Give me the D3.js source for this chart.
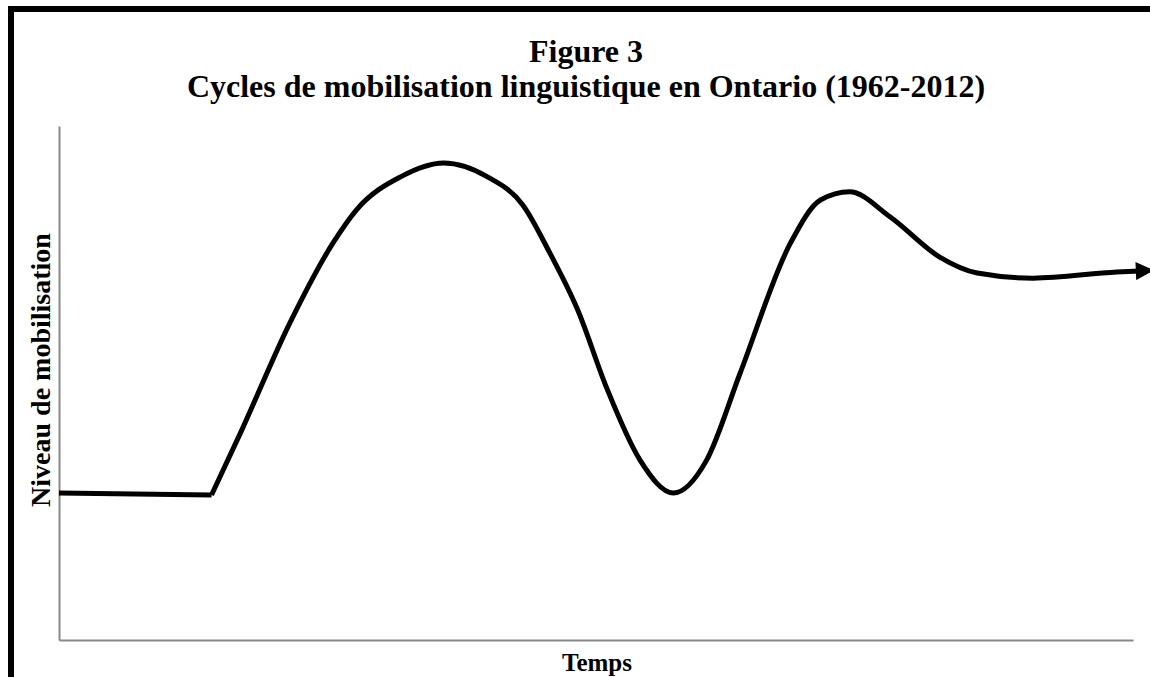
<!DOCTYPE html>
<html>
<head>
<meta charset="utf-8">
<script src="https://cdn.jsdelivr.net/npm/d3@7"></script>
<style>
	body { margin: 0; background: #fff; }
	svg { display: block; }
	text { font-family: "Liberation Serif", "Times New Roman", serif; font-weight: bold; fill: #000; }
</style>
</head>
<body>
<svg id="chart" width="1150" height="677"></svg>
<script>
// niveau de mobilisation (0-100) au fil du temps (0-100)
var flatTime = [0, 14.2];
var flatLevel = [28.6, 28.2];
var waveTime = [14.2, 16.9, 21.5, 25.5, 27.7, 31.8, 35.8, 39.9, 43.2, 45.7, 48.3, 51.0, 54.1, 57.2, 60.3, 63.4, 68.1, 70.9, 73.6, 77.4, 82.0, 85.5, 90.7, 98.5, 100.6];
var waveLevel = [28.2, 40.3, 61.7, 77.2, 83.7, 90.1, 92.8, 90.1, 84.6, 75.3, 64.2, 49.0, 35.0, 28.6, 35.0, 51.8, 77.2, 85.6, 87.2, 82.3, 74.5, 71.4, 70.4, 71.6, 71.8];

var titleLines = ['Figure 3', 'Cycles de mobilisation linguistique en Ontario (1962-2012)'];
var xLabel = 'Temps';
var yLabel = 'Niveau de mobilisation';

function drawChart() {
	var svg = d3.select('#chart'),
		width = +svg.attr('width'),
		height = +svg.attr('height');
	var axisColor = '#898989';
	var plot = {left: 59, right: 1133, top: 126, bottom: 640};

	var xScale = d3.scaleLinear().domain([0, 100]).range([plot.left, plot.right]);
	var yScale = d3.scaleLinear().domain([0, 100]).range([plot.bottom, plot.top]);

	// cadre noir (haut et gauche)
	svg.append('line').attr('x1', 8).attr('x2', width).attr('y1', 9).attr('y2', 9)
		.style('stroke', '#000').style('stroke-width', 6);
	svg.append('line').attr('x1', 11).attr('x2', 11).attr('y1', 6).attr('y2', height)
		.style('stroke', '#000').style('stroke-width', 6);

	svg.append('defs').append('marker')
		.attr('id', 'arrow')
		.attr('viewBox', '0 0 10 10')
		.attr('refX', 2).attr('refY', 5)
		.attr('markerWidth', 4.4).attr('markerHeight', 3.6)
		.attr('markerUnits', 'strokeWidth')
		.attr('orient', 'auto')
		.append('path').attr('d', 'M0,0 L10,5 L0,10 Z').style('fill', '#000');

	// axes sans graduations
	var xAxis = d3.axisBottom(xScale).tickValues([]).tickSizeOuter(0);
	var yAxis = d3.axisLeft(yScale).tickValues([]).tickSizeOuter(0);
	svg.append('g').attr('id', 'x-axis').attr('transform', 'translate(0,' + plot.bottom + ')').call(xAxis);
	svg.append('g').attr('id', 'y-axis').attr('transform', 'translate(' + plot.left + ',0)').call(yAxis);
	svg.selectAll('#x-axis path, #y-axis path').style('stroke', axisColor).style('stroke-width', 2);

	var flatData = flatTime.map(function (t, i) { return {t: t, v: flatLevel[i]}; });
	var waveData = waveTime.map(function (t, i) { return {t: t, v: waveLevel[i]}; });

	var flatLine = d3.line()
		.x(function (d) { return xScale(d.t); })
		.y(function (d) { return yScale(d.v); });
	var waveLine = d3.line()
		.x(function (d) { return xScale(d.t); })
		.y(function (d) { return yScale(d.v); })
		.curve(d3.curveMonotoneX);

	svg.append('path').datum(flatData).attr('d', flatLine)
		.style('fill', 'none').style('stroke', '#000').style('stroke-width', 5)
		.style('stroke-linejoin', 'miter');
	svg.append('path').datum(waveData).attr('d', waveLine)
		.style('fill', 'none').style('stroke', '#000').style('stroke-width', 5)
		.attr('marker-end', 'url(#arrow)');

	// titres
	var title = svg.append('text').attr('text-anchor', 'middle').style('font-size', '32px');
	titleLines.forEach(function (line, i) {
		title.append('tspan').attr('x', 586).attr('y', 62 + i * 35).text(line);
	});

	svg.append('text').attr('text-anchor', 'middle')
		.attr('x', 597).attr('y', 671)
		.style('font-size', '25px').text(xLabel);
	svg.append('text').attr('text-anchor', 'middle')
		.attr('transform', 'translate(50,370) rotate(-90)')
		.style('font-size', '28px').text(yLabel);
}

drawChart();
</script>
</body>
</html>
